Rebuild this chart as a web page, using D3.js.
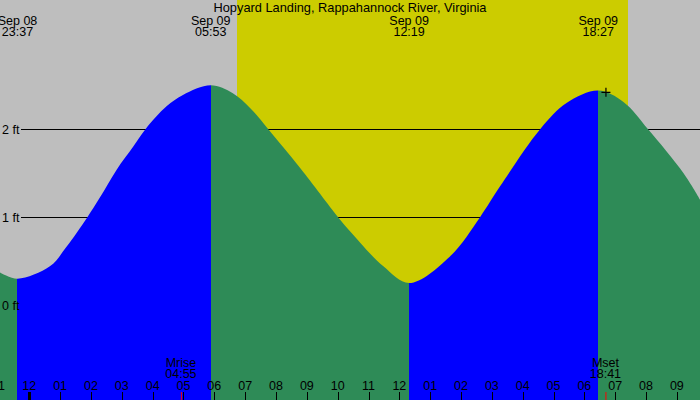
<!DOCTYPE html>
<html>
<head>
<meta charset="utf-8">
<script src="https://cdn.jsdelivr.net/npm/d3@7/dist/d3.min.js"></script>
<style>
  html, body { margin: 0; padding: 0; background: #bebebe; }
  svg { display: block; }
  text { font-family: "Liberation Sans", Arial, sans-serif; font-size: 12.5px; fill: #000; }
  text.title { font-size: 12.8px; }
</style>
</head>
<body>
<svg id="chart" width="700" height="400"></svg>
<script>
// ---- data ----
const title = "Hopyard Landing, Rappahannock River, Virginia";
const viewStart = "2024-09-08T23:03";
const viewEnd = "2024-09-09T21:45";
const sunrise = "2024-09-09T06:44";
const sunset = "2024-09-09T19:24";

const tideTimes = [
  "2024-09-08T23:03", "2024-09-08T23:37", "2024-09-09T00:40", "2024-09-09T01:12",
  "2024-09-09T01:53", "2024-09-09T02:17", "2024-09-09T02:50", "2024-09-09T03:22",
  "2024-09-09T03:46", "2024-09-09T04:27", "2024-09-09T04:59", "2024-09-09T05:53",
  "2024-09-09T06:36", "2024-09-09T07:10", "2024-09-09T07:45", "2024-09-09T08:47",
  "2024-09-09T10:01", "2024-09-09T10:24", "2024-09-09T11:29", "2024-09-09T12:19",
  "2024-09-09T13:38", "2024-09-09T14:37", "2024-09-09T15:16", "2024-09-09T16:34",
  "2024-09-09T17:26", "2024-09-09T18:27", "2024-09-09T19:16", "2024-09-09T20:04",
  "2024-09-09T21:13", "2024-09-09T21:45"
];
const tideHeights = [
  0.37, 0.30, 0.44, 0.66,
  1.00, 1.22, 1.54, 1.80,
  2.00, 2.26, 2.39, 2.50,
  2.41, 2.24, 2.00, 1.56,
  1.00, 0.84, 0.44, 0.25,
  0.55, 1.00, 1.35, 2.00,
  2.30, 2.44, 2.31, 2.00,
  1.50, 1.20
];

const extremeTimes = ["2024-09-08T23:37", "2024-09-09T05:53", "2024-09-09T12:19", "2024-09-09T18:27"];
const extremeKinds = ["low", "high", "low", "high"];

const levelValues = [0, 1, 2];
const levelLabels = ["0 ft", "1 ft", "2 ft"];

const moonEvents = ["Mrise", "Mset"];
const moonTimes = ["2024-09-09T04:55", "2024-09-09T18:41"];

const nowTime = "2024-09-09T18:42";
const nowHeight = 2.42;

// ---- setup ----
const W = 700, H = 400;
const parse = d3.isoParse;
const svg = d3.select("#chart");

const x = d3.scaleTime()
  .domain([parse(viewStart), parse(viewEnd)])
  .range([0, W]);
const y = d3.scaleLinear()
  .domain([-1.08, 3.47])
  .range([H, 0]);

const colors = { night: "#bebebe", day: "#cccc00", rising: "#0000ff", falling: "#2e8b57" };

// background
svg.append("rect").attr("x", 0).attr("y", 0).attr("width", W).attr("height", H).attr("fill", colors.night);
// daylight
svg.append("rect")
  .attr("x", x(parse(sunrise))).attr("y", 0)
  .attr("width", x(parse(sunset)) - x(parse(sunrise))).attr("height", H)
  .attr("fill", colors.day)
  .attr("shape-rendering", "crispEdges");

// level lines (under the water)
svg.append("g").selectAll("line").data(levelValues).join("line")
  .attr("x1", 21).attr("x2", W)
  .attr("y1", d => Math.round(y(d)) + 0.5).attr("y2", d => Math.round(y(d)) + 0.5)
  .attr("stroke", "#000").attr("stroke-width", 1);

// water area
const tide = tideTimes.map((t, i) => ({ t: parse(t), h: tideHeights[i] }));
const area = d3.area()
  .x(d => x(d.t)).y0(H).y1(d => y(d.h))
  .curve(d3.curveCatmullRom.alpha(0.5));

svg.append("clipPath").attr("id", "water")
  .append("path").attr("d", area(tide));

const bounds = [parse(viewStart), ...extremeTimes.map(parse), parse(viewEnd)];
const segs = [];
for (let i = 0; i < bounds.length - 1; i++) {
  const endKind = i < extremeKinds.length ? extremeKinds[i] : "low";
  segs.push({ a: bounds[i], b: bounds[i + 1], rising: endKind === "high" });
}
svg.append("g").attr("clip-path", "url(#water)")
  .selectAll("rect").data(segs).join("rect")
  .attr("x", d => x(d.a)).attr("y", 0)
  .attr("width", d => x(d.b) - x(d.a)).attr("height", H)
  .attr("fill", d => d.rising ? colors.rising : colors.falling)
  .attr("shape-rendering", "crispEdges");

// level labels
svg.append("g").selectAll("text").data(levelValues).join("text")
  .attr("x", 2).attr("y", d => y(d) + 4.5)
  .text((d, i) => levelLabels[i]);

// title
svg.append("text").attr("class", "title").attr("x", W / 2).attr("y", 12)
  .attr("text-anchor", "middle").text(title);

// extreme labels
const fmtDate = d3.timeFormat("%b %d"), fmtTime = d3.timeFormat("%H:%M");
const ext = svg.append("g").selectAll("g").data(extremeTimes.map(parse)).join("g")
  .attr("transform", d => `translate(${x(d)},0)`);
ext.append("text").attr("y", 24.5).attr("text-anchor", "middle").text(d => fmtDate(d));
ext.append("text").attr("y", 36).attr("text-anchor", "middle").text(d => fmtTime(d));

// hour axis
const hours = d3.timeHour.range(d3.timeHour.floor(parse(viewStart)), parse(viewEnd));
const axis = svg.append("g");
axis.selectAll("line").data(hours).join("line")
  .attr("x1", d => Math.round(x(d)) + 0.5).attr("x2", d => Math.round(x(d)) + 0.5)
  .attr("y1", 392).attr("y2", H)
  .attr("stroke", "#000")
  .attr("stroke-width", d => d.getHours() === 0 ? 3 : 1);
axis.selectAll("text").data(hours).join("text")
  .attr("x", d => x(d)).attr("y", 390).attr("text-anchor", "middle")
  .text(d => d3.timeFormat("%I")(d));

// moon events
const moon = svg.append("g").selectAll("g").data(moonTimes.map(parse)).join("g")
  .attr("transform", d => `translate(${x(d)},0)`);
moon.append("line").attr("x1", 0.5).attr("x2", 0.5).attr("y1", 392).attr("y2", H)
  .attr("stroke", "#ff0000").attr("stroke-width", 1);
moon.append("text").attr("y", 366.5).attr("text-anchor", "middle").text((d, i) => moonEvents[i]);
moon.append("text").attr("y", 378).attr("text-anchor", "middle").text(d => fmtTime(d));

// current time marker
const nx = x(parse(nowTime)), ny = y(nowHeight);
svg.append("path")
  .attr("d", `M${nx - 4.5},${ny}H${nx + 4.5}M${nx},${ny - 4.5}V${ny + 4.5}`)
  .attr("stroke", "#000").attr("stroke-width", 1.2).attr("fill", "none");
</script>
</body>
</html>
